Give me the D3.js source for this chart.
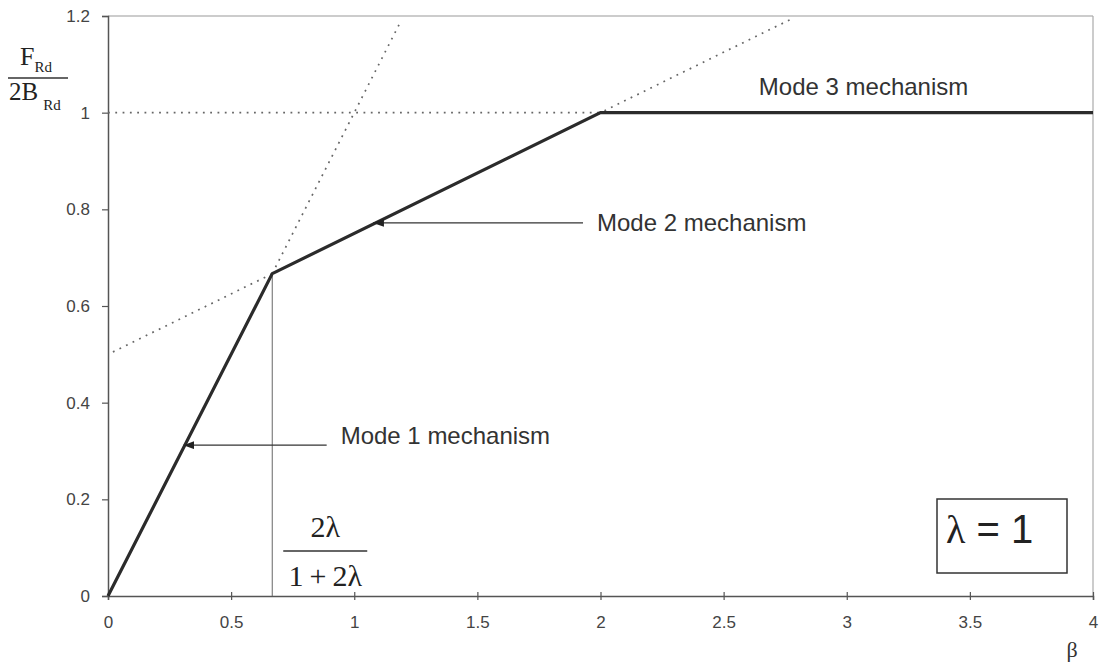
<!DOCTYPE html>
<html>
<head>
<meta charset="utf-8">
<script src="https://cdn.jsdelivr.net/npm/d3@7"></script>
<style>
  body { margin: 0; background: #fff; }
  svg { display: block; }
  .tick text { font-family: "Liberation Sans", Arial, sans-serif; font-size: 17px; fill: #444; }
</style>
</head>
<body>
<div id="chart"></div>
<script>
// mechanism curve (beta, F/2B)
var curveBeta = [0, 0.667, 2, 4];
var curveF = [0, 0.667, 1, 1];

// dotted extensions of the mode lines
var mode1ExtBeta = [0.667, 1.19];
var mode1ExtF = [0.667, 1.19];
var mode2ExtBeta = [0.02, 2.78];
var mode2ExtF = [0.505, 1.195];
var mode3ExtBeta = [0, 2];
var mode3ExtF = [1, 1];

// arrow annotations: tip, tail
var labelText = ["Mode 1 mechanism", "Mode 2 mechanism"];
var labelTipBeta = [0.306, 1.076];
var labelTipF = [0.312, 0.772];
var labelTailBeta = [0.888, 1.929];

var xTicks = [0, 0.5, 1, 1.5, 2, 2.5, 3, 3.5, 4];
var yTicks = [0, 0.2, 0.4, 0.6, 0.8, 1, 1.2];

var W = 1101, H = 662;
var margin = {left: 108, top: 16, right: 8, bottom: 66};
var w = W - margin.left - margin.right,
    h = H - margin.top - margin.bottom;

var sans = '"Liberation Sans", Arial, sans-serif',
    serif = '"Liberation Serif", "Times New Roman", serif';

var svg = d3.select("#chart").append("svg")
    .attr("width", W)
    .attr("height", H);

var defs = svg.append("defs");
defs.append("marker")
    .attr("id", "head")
    .attr("viewBox", "0 0 11 8")
    .attr("refX", 11).attr("refY", 4)
    .attr("markerWidth", 11).attr("markerHeight", 8)
    .attr("markerUnits", "userSpaceOnUse")
    .attr("orient", "auto")
    .append("path")
    .attr("d", "M11,4L0,0L0,8Z")
    .attr("fill", "#222");

var g = svg.append("g")
    .attr("transform", "translate(" + margin.left + "," + margin.top + ")");

var x = d3.scaleLinear().domain([0, 4]).range([0, w]);
var y = d3.scaleLinear().domain([0, 1.2]).range([h, 0]);

// top and right frame
g.append("line").attr("x1", 0).attr("x2", w).attr("y1", 0).attr("y2", 0)
    .attr("stroke", "#999").attr("stroke-width", 1.2);
g.append("line").attr("x1", w).attr("x2", w).attr("y1", 0).attr("y2", h)
    .attr("stroke", "#aaa").attr("stroke-width", 1.2);

// axes
var xAxis = g.append("g")
    .attr("transform", "translate(0," + h + ")")
    .call(d3.axisBottom(x).tickValues(xTicks).tickFormat(d3.format("")).tickSize(4).tickPadding(16));
xAxis.selectAll(".tick line").attr("y1", -4).attr("y2", 4);

var yAxis = g.append("g")
    .call(d3.axisLeft(y).tickValues(yTicks).tickFormat(d3.format("")).tickSize(6).tickPadding(12));

g.selectAll(".domain").attr("stroke", "#555").attr("stroke-width", 1.5);
g.selectAll(".tick line").attr("stroke", "#555").attr("stroke-width", 1.2);

var line = d3.line().x(function(d){ return x(d[0]); }).y(function(d){ return y(d[1]); });
var zip = function(a, b){ return a.map(function(v, i){ return [v, b[i]]; }); };

// dotted guide lines
[[mode1ExtBeta, mode1ExtF], [mode2ExtBeta, mode2ExtF], [mode3ExtBeta, mode3ExtF]].forEach(function(s){
  g.append("path")
    .attr("d", line(zip(s[0], s[1])))
    .attr("fill", "none")
    .attr("stroke", "#666")
    .attr("stroke-width", 1.7)
    .attr("stroke-dasharray", "1.8,5.5");
});

// vertical line at the first kink
g.append("line")
    .attr("x1", x(curveBeta[1])).attr("x2", x(curveBeta[1]))
    .attr("y1", y(0)).attr("y2", y(curveF[1]))
    .attr("stroke", "#666").attr("stroke-width", 1);

// main curve
g.append("path")
    .attr("d", line(zip(curveBeta, curveF)))
    .attr("fill", "none")
    .attr("stroke", "#2b2b2b")
    .attr("stroke-width", 3.2)
    .attr("stroke-linejoin", "miter");

// arrows and labels
labelText.forEach(function(t, i){
  g.append("line")
    .attr("x1", x(labelTailBeta[i])).attr("y1", y(labelTipF[i]))
    .attr("x2", x(labelTipBeta[i])).attr("y2", y(labelTipF[i]))
    .attr("stroke", "#333").attr("stroke-width", 1.3)
    .attr("marker-end", "url(#head)");
  g.append("text")
    .attr("x", x(labelTailBeta[i]) + 14)
    .attr("y", y(labelTipF[i]) + (i === 0 ? -1 : 8))
    .attr("font-family", sans).attr("font-size", 24).attr("fill", "#333")
    .text(t);
});

g.append("text")
    .attr("x", x(2.643)).attr("y", y(1.037))
    .attr("font-family", sans).attr("font-size", 24).attr("fill", "#333")
    .text("Mode 3 mechanism");

// 2λ / (1+2λ) fraction
var fx = x(curveBeta[1]) + 53;
g.append("text").attr("x", fx).attr("y", 537 - margin.top)
    .attr("text-anchor", "middle").attr("font-family", serif).attr("font-size", 30).attr("fill", "#222")
    .text("2λ");
g.append("line").attr("x1", fx - 42).attr("x2", fx + 42)
    .attr("y1", 551 - margin.top).attr("y2", 551 - margin.top)
    .attr("stroke", "#333").attr("stroke-width", 1.5);
g.append("text").attr("x", fx).attr("y", 586 - margin.top)
    .attr("text-anchor", "middle").attr("font-family", serif).attr("font-size", 30).attr("fill", "#222")
    .text("1\u2009+\u20092λ");

// λ = 1 box
g.append("rect")
    .attr("x", 937 - margin.left).attr("y", 499 - margin.top)
    .attr("width", 130).attr("height", 74)
    .attr("fill", "#fff").attr("stroke", "#333").attr("stroke-width", 1.5);
var lt = g.append("text")
    .attr("x", 946 - margin.left).attr("y", 543 - margin.top)
    .attr("font-size", 40).attr("fill", "#222");
lt.append("tspan").attr("font-family", serif).text("λ");
lt.append("tspan").attr("font-family", sans).text(" = 1");

// x axis title
svg.append("text")
    .attr("x", 1072).attr("y", 657)
    .attr("text-anchor", "middle")
    .attr("font-family", serif).attr("font-size", 22).attr("fill", "#333")
    .text("β");

// y axis title: F_Rd / 2B_Rd
var yt = svg.append("g").attr("fill", "#222").attr("font-family", serif);
var t1 = yt.append("text").attr("x", 20).attr("y", 65).attr("font-size", 26);
t1.append("tspan").text("F");
t1.append("tspan").attr("font-size", 15).attr("dy", 7).attr("dx", 0).text("Rd");
yt.append("line").attr("x1", 8).attr("x2", 68).attr("y1", 78).attr("y2", 78)
    .attr("stroke", "#333").attr("stroke-width", 1.5);
var t2 = yt.append("text").attr("x", 9).attr("y", 100).attr("font-size", 25);
t2.append("tspan").text("2B");
t2.append("tspan").attr("font-size", 15).attr("dy", 10).attr("dx", 5).text("Rd");
</script>
</body>
</html>
